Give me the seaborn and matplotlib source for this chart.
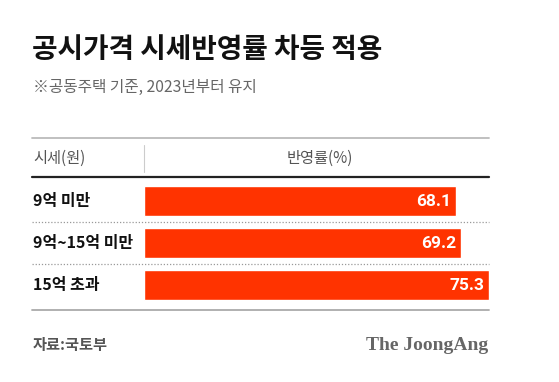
import pandas as pd
import matplotlib
matplotlib.use("Agg")
import matplotlib.pyplot as plt
import matplotlib.transforms as mtransforms
from matplotlib.lines import Line2D
import seaborn as sns

# 데이터
categories = ["9억 미만", "9억~15억 미만", "15억 초과"]
rates = [68.1, 69.2, 75.3]

title = "공시가격 시세반영률 차등 적용"
subtitle = "※공동주택 기준, 2023년부터 유지"
header_left = "시세(원)"
header_right = "반영률(%)"
source = "자료:국토부"
brand = "The JoongAng"

sns.set_theme(style="white")
plt.rcParams["font.family"] = ["Noto Sans CJK KR", "DejaVu Sans"]

W, H = 559, 382
fig = plt.figure(figsize=(W / 100, H / 100), dpi=100)
fig.patch.set_facecolor("white")


def fx(px):
    return px / W


def fy(py):
    return 1 - py / H


# 막대 영역
ax = fig.add_axes([fx(144), fy(306), fx(489) - fx(144), fy(180) - fy(306)])
df = pd.DataFrame({"category": categories, "rate": rates})
sns.barplot(data=df, x="rate", y="category", orient="h", color="#ff3300",
            saturation=1, width=0.72, ax=ax)
ax.set_xlim(0, max(rates))
ax.set_ylim(2.5, -0.5)
ax.axis("off")

for i, v in enumerate(rates):
    ax.text(v - 1.0, i, f"{v:.1f}", ha="right", va="center", color="white",
            fontsize=12.5, fontweight="bold", family=["Roboto", "DejaVu Sans"])

# 행 라벨
trans = mtransforms.blended_transform_factory(fig.transFigure, ax.transData)
for i, c in enumerate(categories):
    ax.text(fx(33), i, c, transform=trans, ha="left", va="center",
            fontsize=11.5, color="#111111", fontweight="semibold")

# 구분선
for yb in [0.5, 1.5]:
    ax.add_artist(Line2D([fx(32), fx(489)], [yb, yb], transform=trans,
                         color="#999999", lw=0.9, linestyle=(0, (1, 1.5)),
                         clip_on=False))

fig.add_artist(Line2D([fx(32), fx(489)], [fy(138), fy(138)], color="#bbbbbb", lw=1.3))
fig.add_artist(Line2D([fx(32), fx(489)], [fy(177), fy(177)], color="#222222", lw=1.6))
fig.add_artist(Line2D([fx(32), fx(489)], [fy(310), fy(310)], color="#aaaaaa", lw=1.3))
fig.add_artist(Line2D([fx(144), fx(144)], [fy(145), fy(172)], color="#cccccc", lw=0.8))

# 헤더
fig.text(fx(33), fy(158), header_left, ha="left", va="center", fontsize=11,
         color="#555555")
fig.text(fx(320), fy(158), header_right, ha="center", va="center", fontsize=11,
         color="#555555")

# 제목
fig.text(fx(32), fy(50), title, ha="left", va="center", fontsize=20,
         fontweight="heavy", color="#111111")
fig.text(fx(33), fy(87), subtitle, ha="left", va="center", fontsize=11.3,
         color="#666666")

# 출처
fig.text(fx(33), fy(345), source, ha="left", va="center", fontsize=11,
         fontweight="semibold", color="#555555")
fig.text(fx(488), fy(345), brand, ha="right", va="center", fontsize=14,
         fontweight="bold", color="#666666",
         family=["Liberation Serif", "DejaVu Serif"])

fig.savefig("out.png", dpi=100, facecolor="white")
